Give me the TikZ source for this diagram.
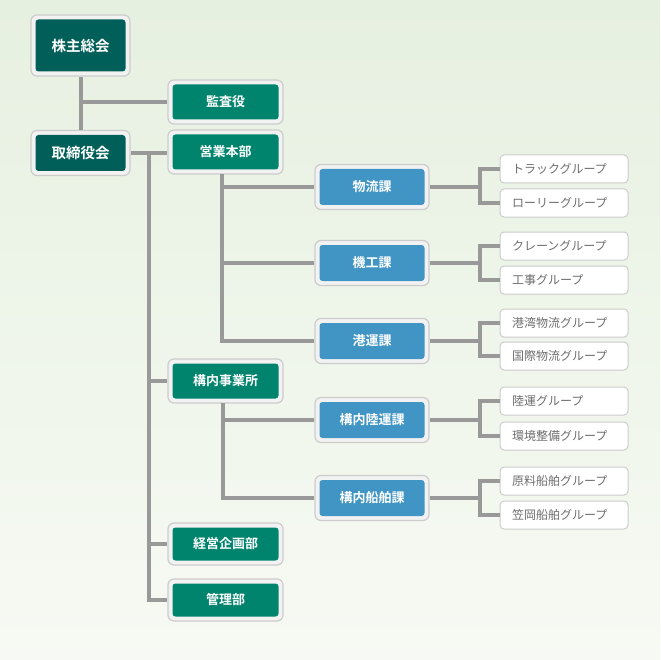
\documentclass[tikz,border=0pt]{standalone}
\usepackage{fontspec}
\newfontfamily\jp{Noto Sans CJK JP}
\newfontfamily\jpb{Noto Sans CJK JP Bold}
\definecolor{bgtop}{HTML}{E6F0E0}
\definecolor{bgbot}{HTML}{F7FAF4}
\definecolor{darkteal}{HTML}{005F58}
\definecolor{teal}{HTML}{00846D}
\definecolor{blue}{HTML}{4095C5}
\definecolor{linegray}{HTML}{999999}
\definecolor{framefill}{HTML}{F2F2F2}
\definecolor{framedraw}{HTML}{CCCCCC}
\definecolor{grptext}{HTML}{6E6E6E}
\newcommand\orgbox[7]{%
  \node[frame, minimum width=#4pt, minimum height=#5pt] (#1) at (#2,#3) {};
  \node[innerbox, fill=#6, minimum width={(#4-9)*1pt}, minimum height={(#5-9)*1pt}] (#1-in) at (#1.center) {#7};}
\begin{document}
\begin{tikzpicture}[x=1pt,y=-1pt,
  frame/.style={draw=framedraw, fill=framefill, line width=1.2pt, rounded corners=6pt, inner sep=0pt},
  innerbox/.style={rounded corners=3pt, inner sep=0pt, text=white, font=\jpb\fontsize{13}{15}\selectfont},
  grp/.style={draw=framedraw, fill=white, line width=1pt, rounded corners=4pt, minimum height=28pt, inner xsep=12pt, inner ysep=0pt, text width=104pt, align=left, text=grptext, font=\jp\fontsize{12}{14}\selectfont},
  conn/.style={draw=linegray, line width=4pt}]
\shade[top color=bgtop, bottom color=bgbot] (0,0) rectangle (660,660);
\useasboundingbox (0,0) rectangle (660,660);
\orgbox{kabu}{80.5}{45.5}{99}{61}{darkteal}{\fontsize{14.5}{16}\selectfont 株主総会}
\orgbox{kansa}{225.5}{102}{115}{44}{teal}{監査役}
\orgbox{tori}{80.5}{153}{99}{45}{darkteal}{\fontsize{14.5}{16}\selectfont 取締役会}
\orgbox{eigyo}{225.5}{152}{115}{44}{teal}{営業本部}
\orgbox{kounai}{225.5}{381}{115}{44}{teal}{構内事業所}
\orgbox{keiei}{225.5}{544}{115}{42}{teal}{経営企画部}
\orgbox{kanri}{225.5}{600}{115}{42}{teal}{管理部}
\orgbox{b1}{372}{187}{114}{45}{blue}{物流課}
\orgbox{b2}{372}{263}{114}{45}{blue}{機工課}
\orgbox{b3}{372}{341}{114}{45}{blue}{港運課}
\orgbox{b4}{372}{420}{114}{45}{blue}{構内陸運課}
\orgbox{b5}{372}{498}{114}{45}{blue}{構内船舶課}
\node[grp] (g1a) at (564,169) {トラックグループ};
\node[grp] (g1b) at (564,203) {ローリーグループ};
\node[grp] (g2a) at (564,246) {クレーングループ};
\node[grp] (g2b) at (564,280) {工事グループ};
\node[grp] (g3a) at (564,323) {港湾物流グループ};
\node[grp] (g3b) at (564,356) {国際物流グループ};
\node[grp] (g4a) at (564,401) {陸運グループ};
\node[grp] (g4b) at (564,436) {環境整備グループ};
\node[grp] (g5a) at (564,481) {原料船舶グループ};
\node[grp] (g5b) at (564,515) {笠岡船舶グループ};
% connectors
\coordinate (t1) at (149,152);
\coordinate (e1) at (222,174);
\coordinate (k1) at (223,403);
\coordinate (j1) at (480,187);
\coordinate (j2) at (480,263);
\coordinate (j3) at (480,341);
\coordinate (j4) at (480,420);
\coordinate (j5) at (480,498);
\begin{scope}[conn]
\draw (kabu.south) -- (tori.north);
\draw (kabu.south |- kansa.west) -- (kansa.west);
\draw (tori.east) -- (tori.east -| eigyo.west);
\draw (t1) |- (kanri.west);
\draw (t1 |- kounai.west) -- (kounai.west);
\draw (t1 |- keiei.west) -- (keiei.west);
\draw (e1) |- (b3.west);
\draw (e1 |- b1.west) -- (b1.west);
\draw (e1 |- b2.west) -- (b2.west);
\draw (k1) |- (b5.west);
\draw (k1 |- b4.west) -- (b4.west);
\draw (b1.east) -- (j1); \draw (g1a.west) -| (j1) |- (g1b.west);
\draw (b2.east) -- (j2); \draw (g2a.west) -| (j2) |- (g2b.west);
\draw (b3.east) -- (j3); \draw (g3a.west) -| (j3) |- (g3b.west);
\draw (b4.east) -- (j4); \draw (g4a.west) -| (j4) |- (g4b.west);
\draw (b5.east) -- (j5); \draw (g5a.west) -| (j5) |- (g5b.west);
\end{scope}
\end{tikzpicture}
\end{document}
